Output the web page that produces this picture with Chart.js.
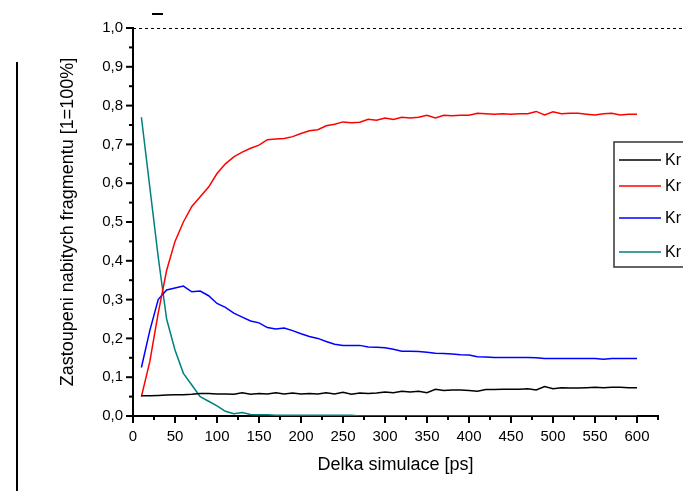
<!DOCTYPE html>
<html>
<head>
<meta charset="utf-8">
<script src="https://cdn.jsdelivr.net/npm/chart.js@4.4.1/dist/chart.umd.min.js"></script>
<style>
  body { margin: 0; background: #fff; }
  canvas { display: block; }
</style>
</head>
<body>
<canvas id="graf" width="683" height="494"></canvas>
<script>
// cas simulace [ps]
const casy = [10, 20, 30, 40, 50, 60, 70, 80, 90, 100,
  110, 120, 130, 140, 150, 160, 170, 180, 190, 200,
  210, 220, 230, 240, 250, 260, 270, 280, 290, 300,
  310, 320, 330, 340, 350, 360, 370, 380, 390, 400,
  410, 420, 430, 440, 450, 460, 470, 480, 490, 500,
  510, 520, 530, 540, 550, 560, 570, 580, 590, 600];

// popisky osy x
const xPopisky = [0, 50, 100, 150, 200, 250, 300, 350, 400, 450, 500, 550, 600];

const nazvy = ['Kr', 'Kr', 'Kr', 'Kr'];
const barvy = ['#000000', '#ff0000', '#0000ff', '#008080'];

const cerna = [0.052, 0.052, 0.053, 0.054, 0.055, 0.055, 0.056, 0.058, 0.058, 0.057,
  0.057, 0.056, 0.060, 0.056, 0.058, 0.057, 0.060, 0.057, 0.059, 0.057,
  0.058, 0.057, 0.060, 0.057, 0.061, 0.056, 0.059, 0.058, 0.059, 0.062,
  0.060, 0.064, 0.062, 0.064, 0.060, 0.069, 0.066, 0.067, 0.067, 0.066,
  0.064, 0.068, 0.068, 0.069, 0.069, 0.069, 0.070, 0.067, 0.076, 0.070,
  0.073, 0.072, 0.072, 0.073, 0.074, 0.073, 0.074, 0.074, 0.073, 0.073];

const cervena = [0.050, 0.140, 0.265, 0.375, 0.450, 0.500, 0.540, 0.565, 0.590, 0.625,
  0.650, 0.668, 0.680, 0.690, 0.698, 0.712, 0.714, 0.715, 0.720, 0.728,
  0.735, 0.738, 0.748, 0.752, 0.758, 0.756, 0.757, 0.765, 0.762, 0.768,
  0.764, 0.770, 0.768, 0.770, 0.775, 0.768, 0.775, 0.774, 0.775, 0.775,
  0.780, 0.779, 0.778, 0.779, 0.778, 0.779, 0.779, 0.785, 0.776, 0.784,
  0.779, 0.780, 0.780, 0.778, 0.776, 0.779, 0.780, 0.776, 0.778, 0.778];

const modra = [0.125, 0.220, 0.300, 0.325, 0.330, 0.335, 0.320, 0.322, 0.310, 0.290,
  0.280, 0.265, 0.255, 0.245, 0.240, 0.228, 0.224, 0.227, 0.220, 0.212,
  0.205, 0.200, 0.192, 0.185, 0.182, 0.182, 0.182, 0.178, 0.177, 0.176,
  0.172, 0.167, 0.167, 0.166, 0.164, 0.162, 0.161, 0.160, 0.158, 0.157,
  0.153, 0.152, 0.151, 0.151, 0.151, 0.151, 0.151, 0.150, 0.148, 0.148,
  0.148, 0.148, 0.148, 0.148, 0.148, 0.146, 0.148, 0.148, 0.148, 0.148];

const tyrkys = [0.770, 0.590, 0.410, 0.250, 0.170, 0.110, 0.080, 0.050, 0.038, 0.026,
  0.012, 0.006, 0.009, 0.004, 0.003, 0.003, 0.002, 0.002, 0.002, 0.002,
  0.002, 0.002, 0.002, 0.002, 0.002, 0.002, 0.000, 0.000, 0.000, 0.000,
  0.000, 0.000, 0.000, 0.000, 0.000, 0.000, 0.000, 0.000, 0.000, 0.000,
  0.000, 0.000, 0.000, 0.000, 0.000, 0.000, 0.000, 0.000, 0.000, 0.000,
  0.000, 0.000, 0.000, 0.000, 0.000, 0.000, 0.000, 0.000, 0.000, 0.000];

const serie = [cerna, cervena, modra, tyrkys];

Chart.defaults.font.family = '"Liberation Sans", Arial, sans-serif';
Chart.defaults.color = '#000';

function body(hodnoty) {
  return hodnoty.map((v, i) => ({ x: casy[i], y: v }));
}

// vlastni carky na osach, legenda a drobnosti
const doplnky = {
  id: 'doplnky',
  afterDraw(chart) {
    const ctx = chart.ctx;
    const a = chart.chartArea;
    const sx = chart.scales.x;
    const sy = chart.scales.y;
    ctx.save();
    ctx.strokeStyle = '#000';
    ctx.lineWidth = 2;
    // y carky
    for (let i = 0; i <= 20; i++) {
      const py = sy.getPixelForValue(i * 0.05);
      const len = i % 2 === 0 ? 7 : 4;
      ctx.beginPath();
      ctx.moveTo(a.left - len, py);
      ctx.lineTo(a.left, py);
      ctx.stroke();
    }
    // x carky
    for (let i = 0; i <= 25; i++) {
      const px = sx.getPixelForValue(i * 25);
      const len = i % 2 === 0 ? 7 : 4;
      ctx.beginPath();
      ctx.moveTo(px, a.bottom);
      ctx.lineTo(px, a.bottom + len);
      ctx.stroke();
    }
    // carkovana cara na 1,0
    ctx.lineWidth = 1;
    ctx.setLineDash([3, 3]);
    const p1 = sy.getPixelForValue(1);
    ctx.beginPath();
    ctx.moveTo(a.left, p1 + 0.5);
    ctx.lineTo(chart.width, p1 + 0.5);
    ctx.stroke();
    ctx.setLineDash([]);

    // legenda
    ctx.fillStyle = '#fff';
    ctx.fillRect(614, 142, 80, 125);
    ctx.strokeStyle = '#333';
    ctx.lineWidth = 1.5;
    ctx.strokeRect(614, 142, 80, 125);
    const radky = [160, 186, 218, 252];
    ctx.font = '16px "Liberation Sans", Arial, sans-serif';
    ctx.textBaseline = 'middle';
    chart.data.datasets.forEach((ds, i) => {
      ctx.strokeStyle = ds.borderColor;
      ctx.lineWidth = 1.5;
      ctx.beginPath();
      ctx.moveTo(619, radky[i]);
      ctx.lineTo(661, radky[i]);
      ctx.stroke();
      ctx.fillStyle = '#000';
      ctx.fillText(ds.label, 665, radky[i] + 1);
    });

    // zbytky ramecku
    ctx.strokeStyle = '#000';
    ctx.lineWidth = 2;
    ctx.beginPath();
    ctx.moveTo(17, 62);
    ctx.lineTo(17, 491);
    ctx.moveTo(152, 14);
    ctx.lineTo(163, 14);
    ctx.stroke();
    ctx.restore();
  }
};

new Chart(document.getElementById('graf'), {
  type: 'line',
  data: {
    datasets: serie.map((s, i) => ({
      label: nazvy[i],
      data: body(s),
      borderColor: barvy[i],
      borderWidth: 1.5,
      pointRadius: 0,
      tension: 0,
      fill: false
    }))
  },
  options: {
    responsive: false,
    animation: false,
    layout: { padding: { left: 0, top: 28, right: 25, bottom: 0 } },
    plugins: {
      legend: { display: false },
      tooltip: { enabled: false }
    },
    scales: {
      x: {
        type: 'linear',
        min: 0,
        max: 625,
        afterFit(scale) { scale.height = 78; },
        afterBuildTicks(scale) {
          scale.ticks = xPopisky.map(v => ({ value: v }));
        },
        ticks: { padding: 12, autoSkip: false, maxRotation: 0, font: { size: 15 } },
        grid: { display: false, drawTicks: false },
        border: { color: '#000', width: 2 },
        title: {
          display: true,
          text: 'Delka simulace [ps]',
          font: { size: 18 },
          padding: { top: 0, bottom: 18 }
        }
      },
      y: {
        min: 0,
        max: 1,
        afterFit(scale) { scale.width = 133; },
        ticks: {
          stepSize: 0.1,
          padding: 10,
          font: { size: 15 },
          callback: v => v.toFixed(1).replace('.', ',')
        },
        grid: { display: false, drawTicks: false },
        border: { color: '#000', width: 2 },
        title: {
          display: true,
          text: 'Zastoupeni nabitych fragmentu [1=100%]',
          font: { size: 18 },
          padding: { top: 57, bottom: 0 }
        }
      }
    }
  },
  plugins: [doplnky]
});
</script>
</body>
</html>
